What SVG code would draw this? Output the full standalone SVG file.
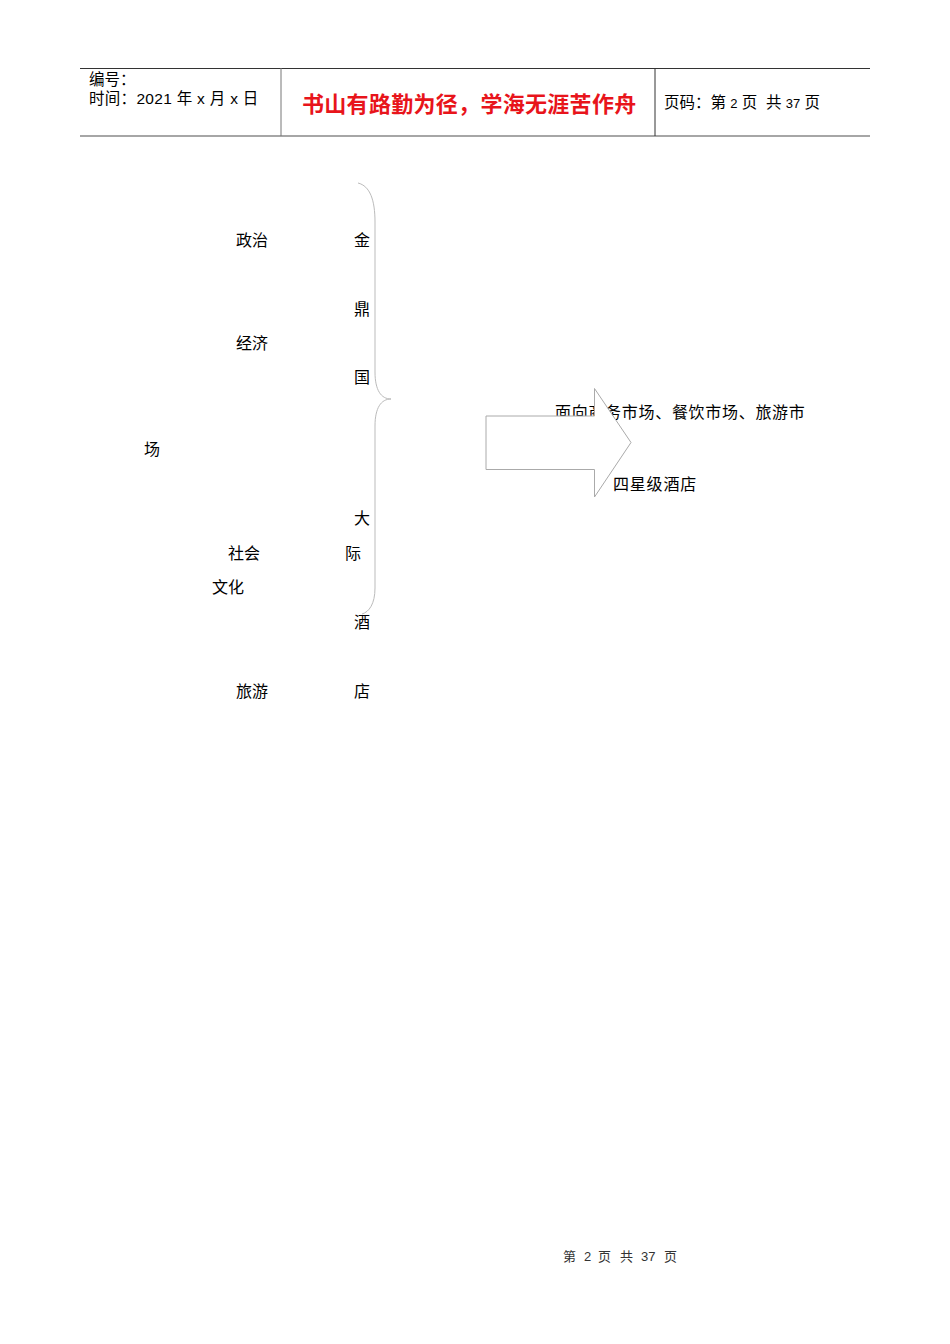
<svg xmlns="http://www.w3.org/2000/svg" width="950" height="1344" viewBox="0 0 950 1344">
<style>
.s{font-family:"Noto Sans CJK SC","Liberation Sans",sans-serif;font-size:16px;fill:#000}
.h{font-family:"Liberation Sans","Noto Sans CJK SC",sans-serif;font-size:15.5px;fill:#000}
.t{font-family:"Noto Sans CJK SC",sans-serif;font-size:22px;font-weight:bold;fill:#e8141b}
.f{font-family:"Liberation Sans","Noto Sans CJK SC",sans-serif;font-size:13px;fill:#333}
</style>
<rect width="950" height="1344" fill="#fff"/>
<g id="header">
<line x1="80" y1="68.5" x2="870" y2="68.5" stroke="#333" stroke-width="1"/>
<line x1="80" y1="136" x2="870" y2="136" stroke="#888" stroke-width="1.5"/>
<line x1="281" y1="68" x2="281" y2="136" stroke="#777" stroke-width="1"/>
<line x1="655" y1="68" x2="655" y2="136" stroke="#333" stroke-width="1"/>
<text class="h" x="89" y="85">编号：</text>
<text class="h" x="89" y="104" xml:space="preserve" letter-spacing="0.3">时间：2021 年 x 月 x 日</text>
<text class="t" x="302" y="112" letter-spacing="0.3">书山有路勤为径，学海无涯苦作舟</text>
<text class="h" x="664" y="108" xml:space="preserve">页码：第 <tspan font-size="13">2</tspan> 页  共 <tspan font-size="13">37</tspan> 页</text>
</g>
<g id="left-labels">
<text class="s" x="236" y="246">政治</text>
<text class="s" x="236" y="349">经济</text>
<text class="s" x="144" y="455">场</text>
<text class="s" x="228" y="559">社会</text>
<text class="s" x="212" y="593">文化</text>
<text class="s" x="236" y="697">旅游</text>
</g>
<g id="hotel-name">
<text class="s" x="354" y="246">金</text>
<text class="s" x="354" y="315">鼎</text>
<text class="s" x="354" y="383">国</text>
<text class="s" x="354" y="524">大</text>
<text class="s" x="345" y="559">际</text>
<text class="s" x="354" y="628">酒</text>
<text class="s" x="354" y="697">店</text>
</g>
<g id="right-labels">
<text class="s" x="555" y="418" letter-spacing="0.7">面向商务市场、餐饮市场、旅游市</text>
<text class="s" x="613" y="490" letter-spacing="0.8">四星级酒店</text>
</g>
<g id="connectors">
<path d="M358,183 C370,186 375,200 375,222 L375,372 C375,390 381,399 391,399 C381,399 375,408 375,426 L375,588 C375,604 369,612 362,614" fill="none" stroke="#bbb" stroke-width="1"/>
<path d="M486,416 L594.5,416 L594.5,388.5 L631,442.5 L594.5,497 L594.5,469.5 L486,469.5 Z" fill="#fff" stroke="#aaa" stroke-width="1"/>
</g>
<g id="footer">
<text class="f" y="1261"><tspan x="563">第</tspan><tspan x="584">2</tspan><tspan x="598">页</tspan><tspan x="620">共</tspan><tspan x="641">37</tspan><tspan x="664">页</tspan></text>
</g>
</svg>
